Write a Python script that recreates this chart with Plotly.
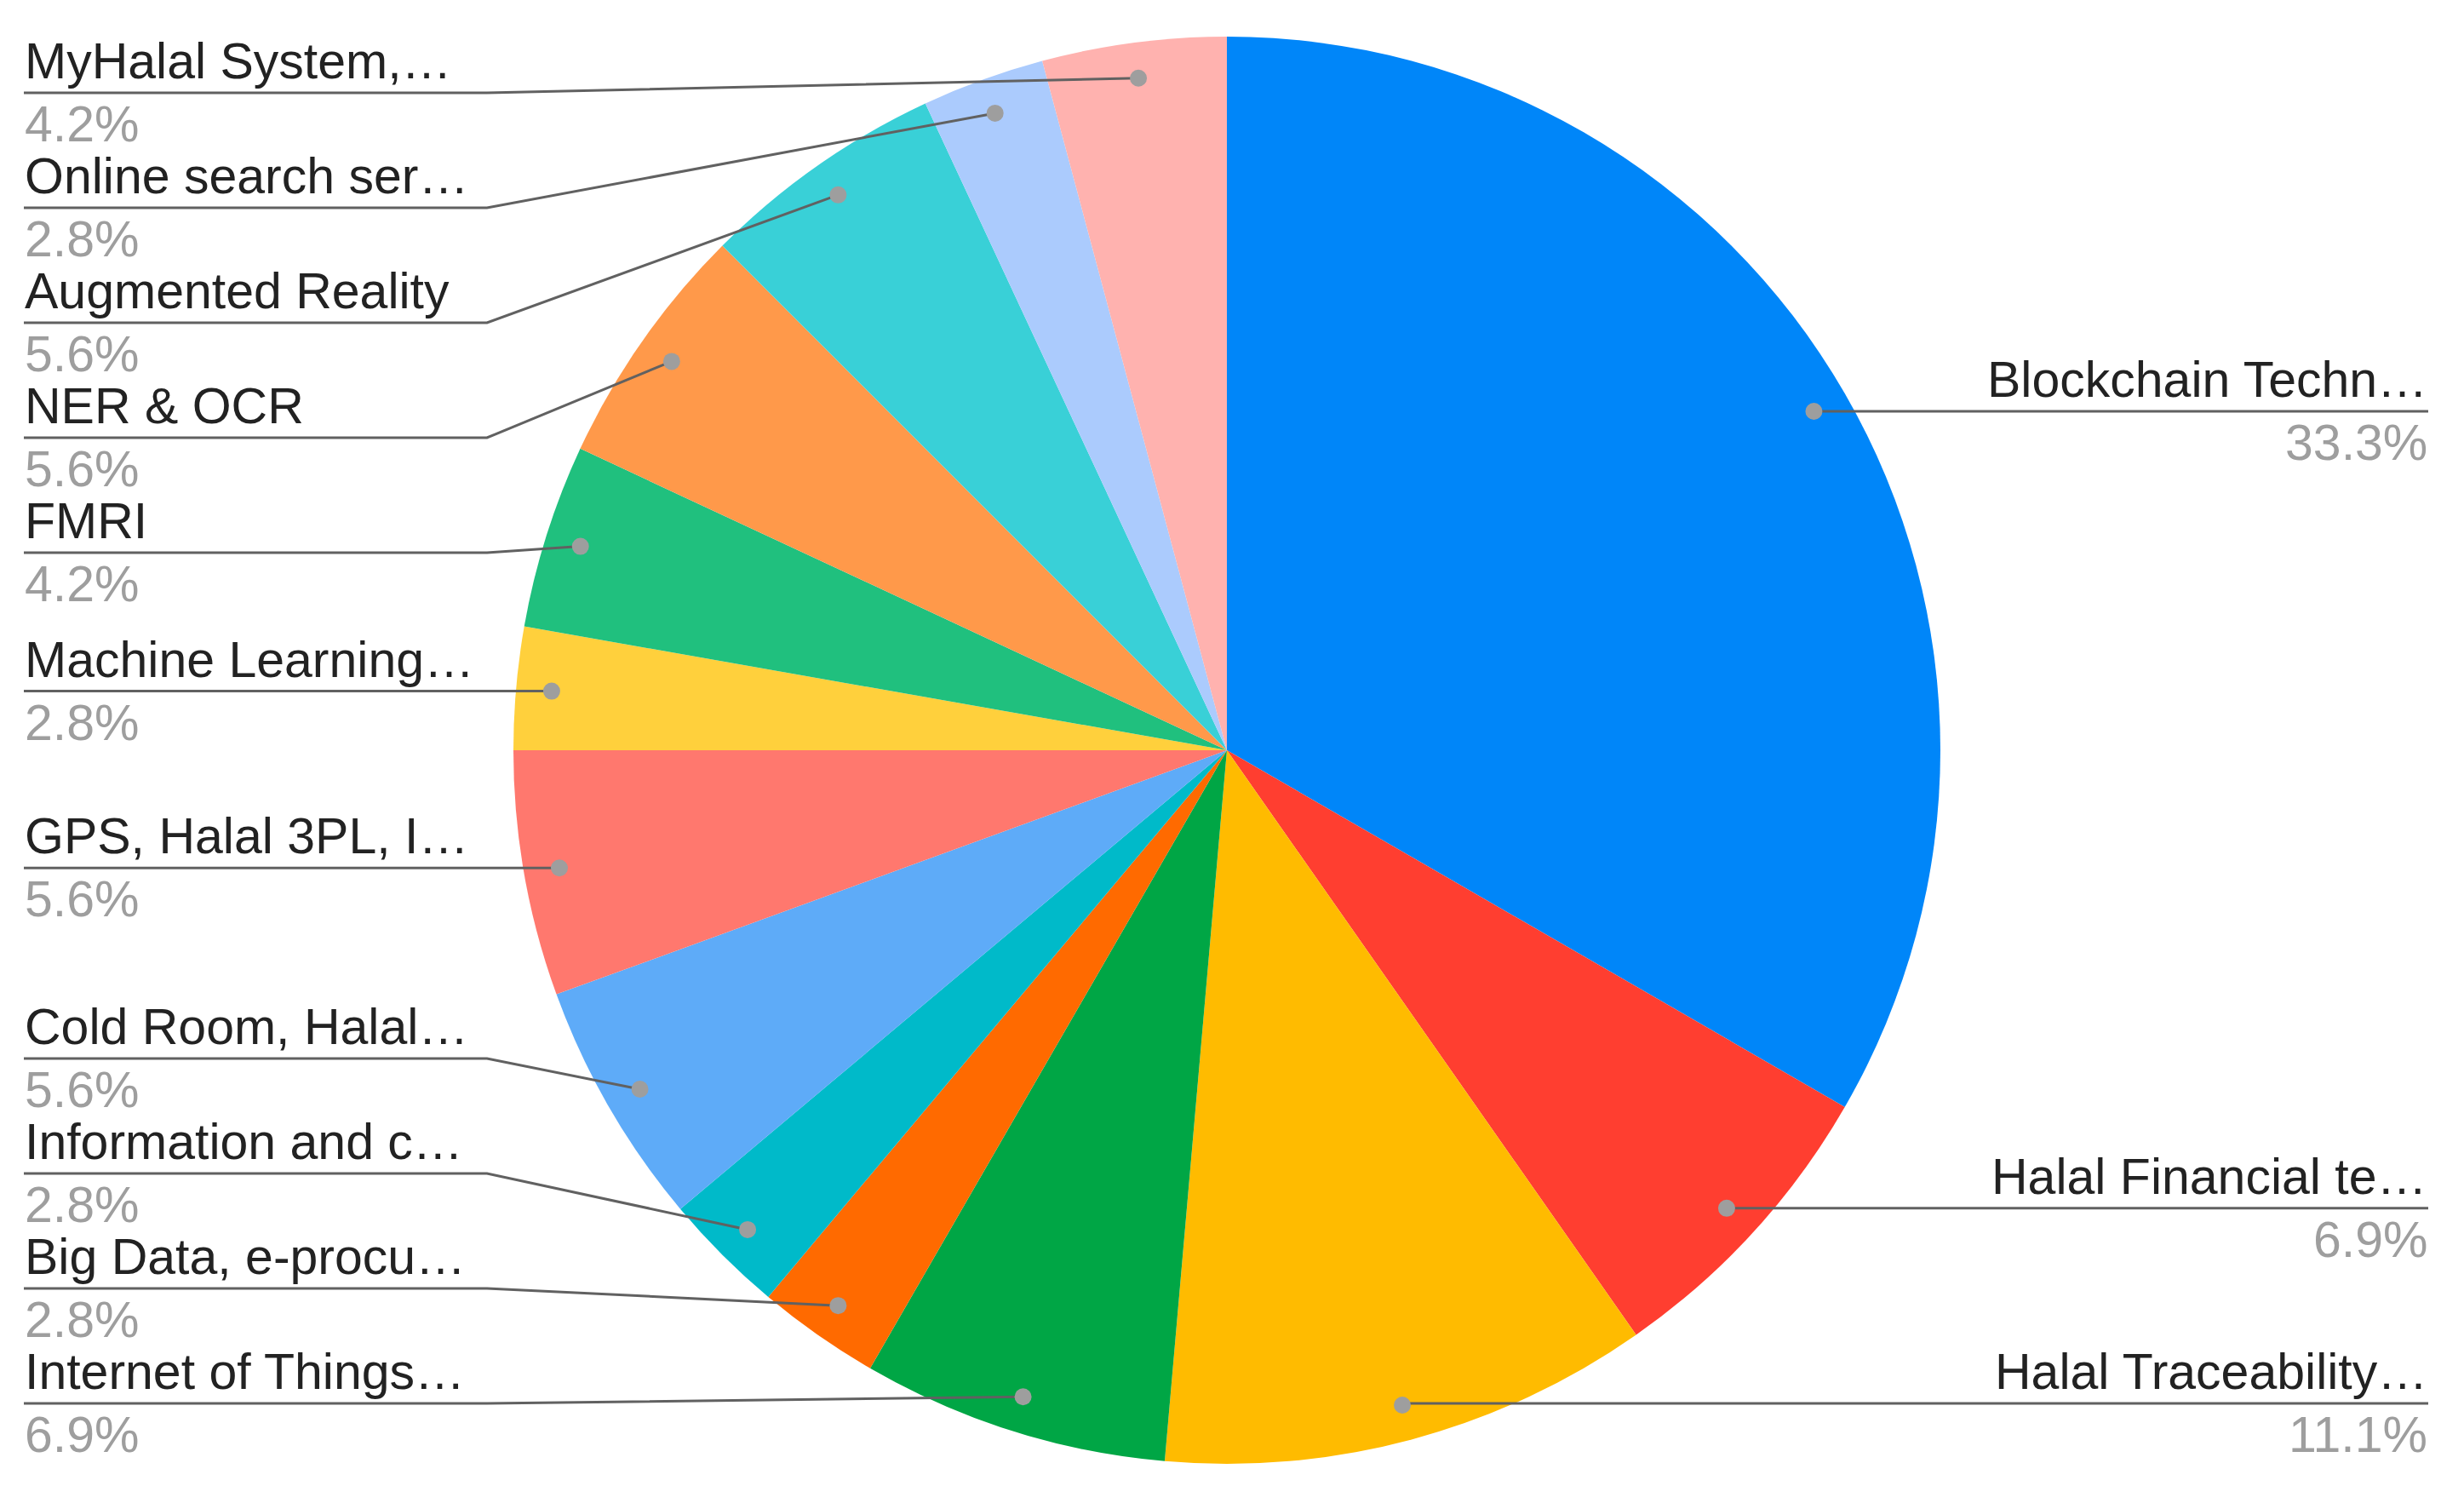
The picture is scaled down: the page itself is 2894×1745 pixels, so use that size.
import math
import plotly.graph_objects as go

# categories, clockwise from 12 o'clock
labels = [
    "Blockchain Techn…", "Halal Financial te…", "Halal Traceability…",
    "Internet of Things…", "Big Data, e-procu…", "Information and c…",
    "Cold Room, Halal…", "GPS, Halal 3PL, I…", "Machine Learning…",
    "FMRI", "NER & OCR", "Augmented Reality", "Online search ser…",
    "MyHalal System,…",
]
counts = [24, 5, 8, 5, 2, 2, 4, 4, 2, 3, 4, 4, 2, 3]
colors = [
    "#0086F9", "#FF3E30", "#FFBB00", "#00A645", "#FF6A00", "#00BAC9",
    "#5EABF8", "#FF786E", "#FFD03C", "#20C07E", "#FF994A", "#39D0D7",
    "#ABCBFD", "#FFB2AF",
]

PAGE_W, PAGE_H = 2894, 1745
OFF = 8  # default body margin of the html page
W, H = PAGE_W - 2 * OFF, PAGE_H - 2 * OFF

# layout in page pixels
cx, cy, R = 1441, 881, 838
gap = 135
left_x0, left_x1, right_x1 = 28, 572, 2852
top_y, bot_y = 109, 1648


def px(x):
    return (x - OFF) / W


def py(y):
    return 1 - (y - OFF) / H


fig = go.Figure(go.Pie(
    labels=labels, values=counts, sort=False, direction="clockwise",
    rotation=0, marker=dict(colors=colors, line=dict(width=0)),
    textinfo="none", hoverinfo="label+percent", showlegend=False,
    domain=dict(x=[px(cx - R), px(cx + R)], y=[py(cy + R), py(cy - R)]),
))

total = sum(counts)
dots = []
cum = 0
for lab, v in zip(labels, counts):
    mid = (cum + v / 2) / total * 2 * math.pi
    cum += v
    dx = cx + 0.95 * R * math.sin(mid)
    dy = cy - 0.95 * R * math.cos(mid)
    pct = f"{100 * v / total:.1f}%"
    dots.append(dict(label=lab, pct=pct, x=dx, y=dy, side="right" if dx > cx else "left"))


def spread(items):
    items.sort(key=lambda d: d["y"])
    ys = [d["y"] for d in items]
    for i in range(len(ys)):
        lo = top_y if i == 0 else ys[i - 1] + gap
        ys[i] = max(ys[i], lo)
    for i in range(len(ys) - 1, -1, -1):
        hi = bot_y if i == len(ys) - 1 else ys[i + 1] - gap
        ys[i] = min(ys[i], hi)
    for d, y in zip(items, ys):
        d["ly"] = y


left = [d for d in dots if d["side"] == "left"]
right = [d for d in dots if d["side"] == "right"]
spread(left)
spread(right)

shapes, annotations = [], []
line_col = "#616161"
for d in left + right:
    if d["side"] == "left":
        path = f"M {px(left_x0)} {py(d['ly'])} L {px(left_x1)} {py(d['ly'])} L {px(d['x'])} {py(d['y'])}"
        tx, anchor = left_x0, "left"
    else:
        path = f"M {px(d['x'])} {py(d['ly'])} L {px(right_x1)} {py(d['ly'])}"
        tx, anchor = right_x1, "right"
    shapes.append(dict(type="path", path=path, xref="paper", yref="paper",
                       line=dict(color=line_col, width=3)))
    rr = 10
    shapes.append(dict(type="circle", xref="paper", yref="paper",
                       x0=px(d["x"] - rr), x1=px(d["x"] + rr),
                       y0=py(d["y"] + rr), y1=py(d["y"] - rr),
                       fillcolor="#9E9E9E", line=dict(width=0)))
    annotations.append(dict(text=d["label"], x=px(tx), y=py(d["ly"] - 3),
                            xref="paper", yref="paper", xanchor=anchor, yanchor="bottom",
                            showarrow=False, borderpad=0,
                            font=dict(size=59, color="#222222")))
    annotations.append(dict(text=d["pct"], x=px(tx), y=py(d["ly"] + 3),
                            xref="paper", yref="paper", xanchor=anchor, yanchor="top",
                            showarrow=False, borderpad=0,
                            font=dict(size=59, color="#9E9E9E")))

fig.update_layout(
    width=W, height=H, margin=dict(l=0, r=0, t=0, b=0),
    paper_bgcolor="white", plot_bgcolor="white",
    font=dict(family="Liberation Sans, Arial, sans-serif"),
    shapes=shapes, annotations=annotations,
)
fig.write_html("out.html")
